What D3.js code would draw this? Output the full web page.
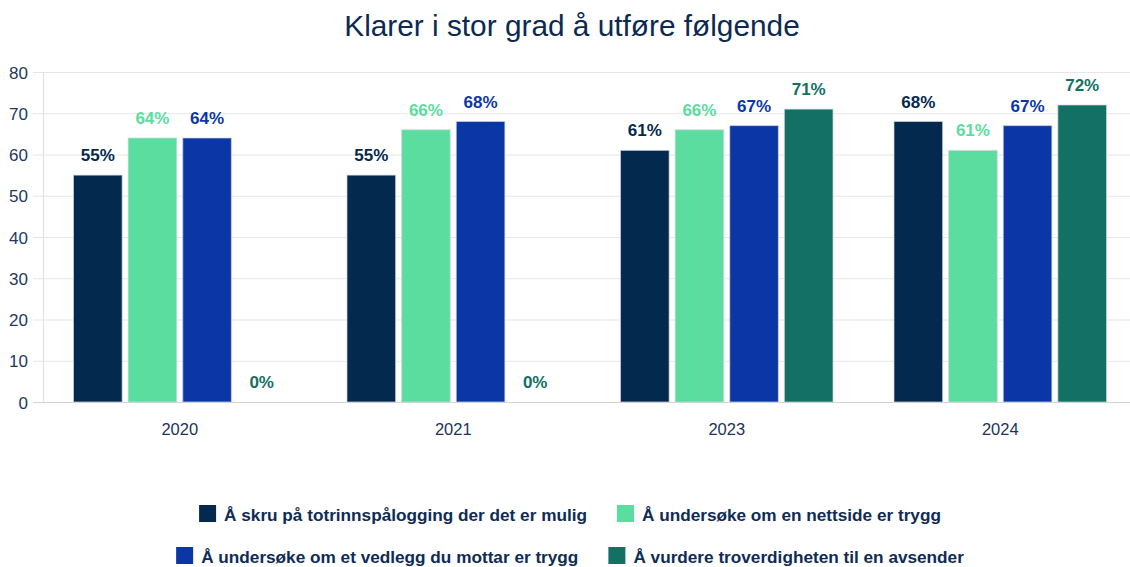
<!DOCTYPE html>
<html>
<head>
<meta charset="utf-8">
<script src="https://cdn.jsdelivr.net/npm/d3@7"></script>
<style>
  html, body { margin: 0; padding: 0; background: #fff; }
  svg { display: block; font-family: "Liberation Sans", Arial, Helvetica, sans-serif; }
</style>
</head>
<body>
<svg id="chart" width="1130" height="567"></svg>
<script>
// Survey years on the x axis
const years = ["2020", "2021", "2023", "2024"];

// One series per task, share (%) who manage it to a large degree
const seriesNames = [
  "Å skru på totrinnspålogging der det er mulig",
  "Å undersøke om en nettside er trygg",
  "Å undersøke om et vedlegg du mottar er trygg",
  "Å vurdere troverdigheten til en avsender"
];
const totrinn   = [55, 55, 61, 68];
const nettside  = [64, 66, 66, 61];
const vedlegg   = [64, 68, 67, 67];
const avsender  = [0, 0, 71, 72];

const yTicks = [0, 10, 20, 30, 40, 50, 60, 70, 80];
const colors = ["#04294f", "#5bdd9f", "#0b37a6", "#127065"];

const seriesValues = [totrinn, nettside, vedlegg, avsender];

const svg = d3.select("#chart");
const margin = { left: 43, right: 1137, top: 72, bottom: 402 };

const x0 = d3.scaleBand().domain(years).range([margin.left, margin.right]).paddingInner(0).paddingOuter(0);
const x1 = d3.scaleBand().domain(d3.range(seriesNames.length))
  .range([30.5, x0.bandwidth() - 30.5]).paddingInner(0.11).paddingOuter(0);
const y = d3.scaleLinear().domain([0, 80]).range([margin.bottom, margin.top]);

// Title
svg.append("text")
  .attr("x", 572).attr("y", 36)
  .attr("text-anchor", "middle")
  .attr("font-size", 29.8)
  .attr("fill", "#0b2a52")
  .text("Klarer i stor grad å utføre følgende");

// Horizontal grid lines
svg.append("g").selectAll("line")
  .data(yTicks)
  .join("line")
  .attr("x1", 33).attr("x2", 1130)
  .attr("y1", d => y(d) + 0.5).attr("y2", d => y(d) + 0.5)
  .attr("stroke", d => d === 0 ? "#d4d4d4" : "#e6e6e6")
  .attr("stroke-width", 1.2);

// Vertical axis line
svg.append("line")
  .attr("x1", margin.left + 0.5).attr("x2", margin.left + 0.5)
  .attr("y1", margin.top).attr("y2", margin.bottom)
  .attr("stroke", "#e2e2e2").attr("stroke-width", 1.2);

// Y axis labels
const yAxis = svg.append("g")
  .attr("transform", `translate(28,0)`)
  .call(d3.axisLeft(y).tickValues(yTicks).tickSize(0).tickPadding(0));
yAxis.select(".domain").remove();
yAxis.selectAll("text")
  .attr("font-size", 17)
  .attr("font-family", "\"Liberation Sans\", Arial, sans-serif")
  .attr("fill", "#1d3a5e")
  .attr("dy", "0.36em");

// X axis labels
const xAxis = svg.append("g")
  .attr("transform", `translate(0,${margin.bottom})`)
  .call(d3.axisBottom(x0).tickSize(0).tickPadding(21));
xAxis.select(".domain").remove();
xAxis.selectAll("text")
  .attr("font-size", 16.5)
  .attr("font-family", "\"Liberation Sans\", Arial, sans-serif")
  .attr("fill", "#1c3458")
  .attr("dy", "0.71em");

// Bars and value labels
const cells = [];
years.forEach((yr, i) => {
  seriesValues.forEach((vals, s) => {
    cells.push({ year: yr, s, value: vals[i] });
  });
});

const groups = svg.append("g");
groups.selectAll("rect")
  .data(cells)
  .join("rect")
  .attr("x", d => x0(d.year) + x1(d.s))
  .attr("width", x1.bandwidth())
  .attr("y", d => y(d.value))
  .attr("height", d => y(0) - y(d.value))
  .attr("fill", d => colors[d.s])
  .attr("stroke", "#d0d6de")
  .attr("stroke-opacity", 0.7)
  .attr("stroke-width", 1);

groups.selectAll("text")
  .data(cells)
  .join("text")
  .attr("x", d => x0(d.year) + x1(d.s) + x1.bandwidth() / 2)
  .attr("y", d => y(d.value) - 14)
  .attr("text-anchor", "middle")
  .attr("font-size", 17)
  .attr("font-weight", "bold")
  .attr("fill", d => colors[d.s])
  .text(d => d.value + "%");

// Legend: two centred rows of two items
const legendRows = [[0, 1], [2, 3]];
const legendY = [521, 563];
const legend = svg.append("g").attr("font-size", 17.2).attr("font-weight", "bold");
legendRows.forEach((row, r) => {
  const g = legend.append("g");
  let cx = 0;
  row.forEach((s, k) => {
    if (k > 0) cx += 30;
    g.append("rect")
      .attr("x", cx).attr("y", legendY[r] - 16)
      .attr("width", 17).attr("height", 17)
      .attr("fill", colors[s]);
    const t = g.append("text")
      .attr("x", cx + 25).attr("y", legendY[r])
      .attr("fill", "#0e2c55")
      .text(seriesNames[s]);
    cx += 25 + t.node().getComputedTextLength();
  });
  g.attr("transform", `translate(${570 - cx / 2},0)`);
});
</script>
</body>
</html>
